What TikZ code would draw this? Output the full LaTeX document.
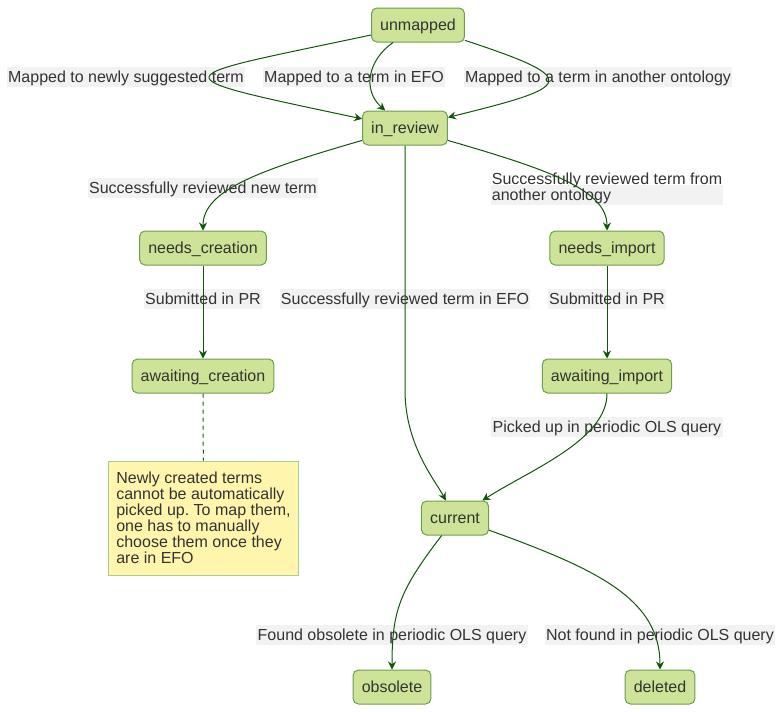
\documentclass[tikz,border=0pt]{standalone}
\usepackage{fontspec}
\setmainfont{Liberation Sans}
\usetikzlibrary{arrows.meta, positioning}
\definecolor{statefill}{HTML}{CDE498}
\definecolor{stateline}{HTML}{6A9F4F}
\definecolor{edgecol}{HTML}{13540C}
\definecolor{labelfill}{HTML}{F2F2F2}
\definecolor{notefill}{HTML}{FFF5AD}
\definecolor{noteline}{HTML}{A8D08D}
\definecolor{txt}{HTML}{333333}
\frenchspacing

\begin{document}
\begin{tikzpicture}[x=0.75pt, y=-0.75pt, font=\fontsize{12}{12}\selectfont, text=txt,
    state/.style = {draw=stateline, fill=statefill, rounded corners=4pt, line width=0.75pt, minimum height=25.5pt, inner xsep=6.5pt, text height=10.5pt, text depth=2.5pt},
    lbl/.style = {fill=labelfill, inner sep=1pt, align=left, text height=10.5pt, text depth=2.5pt},
    trans/.style = {draw=edgecol, line width=0.75pt, -{Stealth[length=6pt, width=6pt, inset=2pt]}},
    note/.style = {draw=noteline, fill=notefill, line width=0.75pt, align=left, minimum width=141.75pt, minimum height=85.5pt, inner xsep=6pt}]
    \useasboundingbox (0,0) rectangle (782,711);
    % states
    \node[state] (unmapped) at (418,25) {unmapped};
    \node[state] (in_review) at (405,128) {in\_review};
    \node[state] (needs_creation) at (203,248) {needs\_creation}; \node[state] (needs_import) at (607,248) {needs\_import};
    \node[state] (awaiting_creation) at (203,376) {awaiting\_creation}; \node[state] (awaiting_import) at (607,376) {awaiting\_import};
    \node[state] (current) at (455,518) {current};
    \node[state] (obsolete) at (392,687) {obsolete}; \node[state] (deleted) at (660,687) {deleted};
    \node[note] (hint) at (203.5,518) {Newly created terms\\cannot be automatically\\picked up. To map them,\\one has to manually\\choose them once they\\are in EFO};
    % transition labels
    \node[lbl] (l1) at (126,77) {Mapped to newly suggested term};
    \node[lbl] (l2) at (354,77) {Mapped to a term in EFO};
    \node[lbl] (l3) at (598,77) {Mapped to a term in another ontology};
    \node[lbl] (l4) at (203,188) {Successfully reviewed new term};
    \node[lbl] (l5) at (607,195) {Successfully reviewed term from\\another ontology};
    \node[lbl] (l6) at (203,299) {Submitted in PR}; \node[lbl] (l7) at (607,299) {Submitted in PR};
    \node[lbl] (l8) at (405,299) {Successfully reviewed term in EFO};
    \node[lbl] (l9) at (607,427) {Picked up in periodic OLS query};
    \node[lbl] (l10) at (392,635) {Found obsolete in periodic OLS query};
    \node[lbl] (l11) at (660,635) {Not found in periodic OLS query};
    % transitions
    \draw[trans] (unmapped) .. controls (164,79) and (151,74) .. (in_review);
    \draw[trans] (unmapped) .. controls (368,60) and (362,90) .. (in_review);
    \draw[trans] (unmapped) .. controls (586,80) and (571,87) .. (in_review);
    \draw[trans] (in_review) .. controls (260,170) and (203,190) .. (needs_creation);
    \draw[trans] (in_review) .. controls (550,170) and (607,190) .. (needs_import);
    \draw[trans] (in_review.south) -- (405,390) .. controls (405,445) and (435,480) .. (current);
    \draw[trans] (needs_creation) -- (awaiting_creation); \draw[trans] (needs_import) -- (awaiting_import);
    \draw[edgecol, line width=0.75pt, dashed] (awaiting_creation) -- (hint);
    \draw[trans] (awaiting_import) .. controls (607,440) and (530,470) .. (current);
    \draw[trans] (current) .. controls (400,590) and (392,610) .. (obsolete);
    \draw[trans] (current) .. controls (600,570) and (660,600) .. (deleted);
\end{tikzpicture}
\end{document}
